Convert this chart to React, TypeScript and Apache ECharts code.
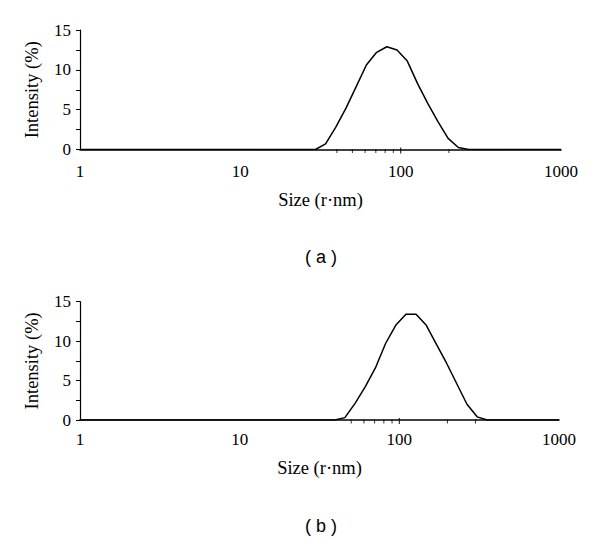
import React, { useEffect, useRef } from "react";
import * as echarts from "echarts";

// Particle size (nm) sample positions and intensities (%)
const SIZES_A = [1, 29.4, 34.0, 39.4, 45.6, 52.8, 61.1, 70.8, 82.0, 94.9, 110, 127.3, 147.5, 170.8, 197.7, 229, 265.2, 1000];
const INTENSITY_A = [0, 0, 0.7, 2.8, 5.2, 7.9, 10.6, 12.2, 12.9, 12.5, 11.1, 8.3, 5.8, 3.5, 1.4, 0.25, 0, 0];

const SIZES_B = [1, 39.4, 45.6, 52.8, 61.1, 70.8, 82.0, 94.9, 110, 127.3, 147.5, 170.8, 197.7, 229, 265.2, 307.1, 355.7, 1000];
const INTENSITY_B = [0, 0, 0.3, 2.1, 4.2, 6.6, 9.7, 12.0, 13.4, 13.4, 12.0, 9.6, 7.2, 4.6, 2.0, 0.4, 0, 0];

// small tick marks drawn on the x axis
const TICKS_A = [40, 50, 60, 70, 80, 90, 100, 200];
const TICKS_B = [50, 60, 70, 80, 90, 100, 200, 300];

const PANEL_LABELS = ["( a )", "( b )"];
const X_NAME = "Size (r·nm)";
const Y_NAME = "Intensity (%)";

const SERIF = "'Liberation Serif', 'DejaVu Serif', serif";
const SANS = "'Liberation Sans', Arial, sans-serif";

function xAxisCfg(gridIndex: number, gap: number, margin: number) {
  return {
    type: "log",
    logBase: 10,
    gridIndex,
    min: 1,
    max: 1000,
    name: X_NAME,
    nameLocation: "middle",
    nameGap: gap,
    nameTextStyle: { fontFamily: SERIF, fontSize: 18.5, color: "#000" },
    axisLine: { show: true, lineStyle: { color: "#000", width: 1.6 } },
    axisTick: { show: false },
    minorTick: { show: false },
    splitLine: { show: false },
    axisLabel: {
      fontFamily: SERIF,
      fontSize: 17,
      color: "#000",
      margin,
      formatter: (v: number) => String(Math.round(v)),
    },
  };
}

function yAxisCfg(gridIndex: number) {
  return {
    type: "value",
    gridIndex,
    min: 0,
    max: 15,
    interval: 2.5,
    name: Y_NAME,
    nameLocation: "middle",
    nameGap: 39,
    nameRotate: 90,
    nameTextStyle: { fontFamily: SERIF, fontSize: 18.5, color: "#000" },
    axisLine: { show: true, lineStyle: { color: "#000", width: 1.2 } },
    axisTick: { show: true, length: 4, lineStyle: { color: "#000", width: 1 } },
    splitLine: { show: false },
    axisLabel: {
      fontFamily: SERIF,
      fontSize: 17,
      color: "#000",
      margin: 9,
      formatter: (v: number) => (v % 5 === 0 ? String(v) : ""),
    },
  };
}

function tickSeries(ticks: number[], idx: number) {
  return {
    type: "scatter",
    xAxisIndex: idx,
    yAxisIndex: idx,
    silent: true,
    clip: false,
    symbol: "rect",
    data: ticks.map((t) => ({
      value: [t, 0],
      symbolSize: t === 100 ? [1.2, 6] : [1, 4],
      symbolOffset: t === 100 ? [0, 1] : [0, 1.5],
    })),
    itemStyle: { color: "#000" },
    z: 5,
  };
}

export default function App() {
  const ref = useRef<HTMLDivElement>(null);
  useEffect(() => {
    if (!ref.current) return;
    const chart = echarts.init(ref.current, undefined, { renderer: "svg" });
    chart.setOption({
      animation: false,
      backgroundColor: "#fff",
      grid: [
        { left: 80, top: 30, width: 481, height: 119.5 },
        { left: 80, top: 301.7, width: 479, height: 118.3 },
      ],
      xAxis: [xAxisCfg(0, 41, 13), xAxisCfg(1, 38.5, 10.5)],
      yAxis: [yAxisCfg(0), yAxisCfg(1)],
      series: [
        {
          type: "line",
          xAxisIndex: 0,
          yAxisIndex: 0,
          data: SIZES_A.map((s, i) => [s, INTENSITY_A[i]]),
          showSymbol: false,
          lineStyle: { color: "#000", width: 1.5 },
          z: 3,
        },
        {
          type: "line",
          xAxisIndex: 1,
          yAxisIndex: 1,
          data: SIZES_B.map((s, i) => [s, INTENSITY_B[i]]),
          showSymbol: false,
          lineStyle: { color: "#000", width: 1.5 },
          z: 3,
        },
        tickSeries(TICKS_A, 0),
        tickSeries(TICKS_B, 1),
      ],
      graphic: [
        {
          type: "text",
          x: 321,
          y: 257,
          style: {
            text: PANEL_LABELS[0],
            fontFamily: SANS,
            fontSize: 18,
            fill: "#000",
            textAlign: "center",
            textVerticalAlign: "middle",
          },
        },
        {
          type: "text",
          x: 321,
          y: 526,
          style: {
            text: PANEL_LABELS[1],
            fontFamily: SANS,
            fontSize: 18,
            fill: "#000",
            textAlign: "center",
            textVerticalAlign: "middle",
          },
        },
      ],
    });
    return () => chart.dispose();
  }, []);
  return (
    <div
      ref={ref}
      style={{ position: "fixed", left: 0, top: 0, width: 600, height: 538, background: "#fff" }}
    />
  );
}
